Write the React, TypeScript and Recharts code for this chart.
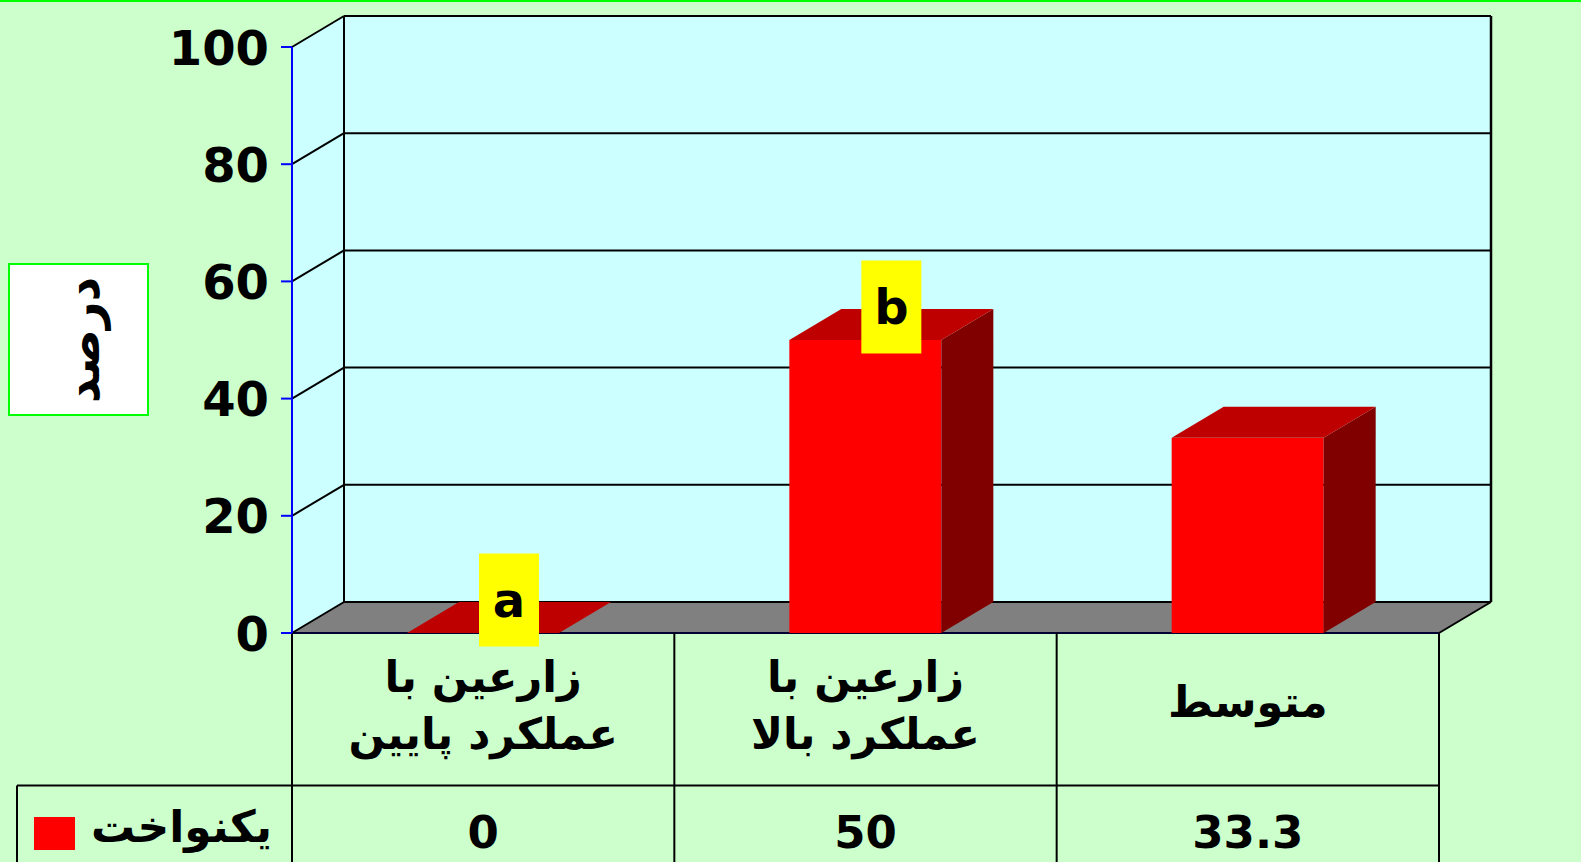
import React from 'react';
import { BarChart, Bar, XAxis, YAxis, CartesianGrid, LabelList } from 'recharts';

// ---------- data ----------
const categoryLines: string[][] = [
  ['زارعین با', 'عملکرد پایین'],
  ['زارعین با', 'عملکرد بالا'],
  ['متوسط'],
];
const categories = categoryLines.map((l) => l.join(' '));
const uniformValues = [0, 50, 33.3];
const valueLabels = ['0', '50', '33.3'];
const significanceLetters = ['a', 'b', ''];
const yTicks = [0, 20, 40, 60, 80, 100];
const seriesName = 'یکنواخت';
const yAxisTitle = 'درصد';

const data = categories.map((c, i) => ({
  category: c,
  value: uniformValues[i],
  letter: significanceLetters[i],
}));

// ---------- layout ----------
const W = 1581;
const H = 862;
const MARGIN = { top: 47, right: 142, bottom: 0, left: 172 };
const Y_AXIS_W = 120;
const X_AXIS_H = 229;
const PL = MARGIN.left + Y_AXIS_W; // 292
const PR = W - MARGIN.right; // 1439
const PT = MARGIN.top; // 47
const PB = H - X_AXIS_H; // 633
const DX = 52;
const DY = 31;
const FONT = '"DejaVu Sans", sans-serif';
const TABLE_ROW = 785.5;
const BAND = (PR - PL) / categories.length;

const gridLine = (p: any) => {
  const y = p.y1;
  const x1 = p.x1;
  const x2 = p.x2;
  return (
    <g key={`grid-${y}`}>
      <line x1={x1} y1={y} x2={x1 + DX} y2={y - DY} stroke="#000" strokeWidth={2} />
      <line x1={x1 + DX} y1={y - DY} x2={x2 + DX} y2={y - DY} stroke="#000" strokeWidth={2} />
    </g>
  );
};

const Bar3D = (p: any) => {
  const x = p.x;
  const y = p.y;
  const w = p.width;
  const h = Math.max(0, p.height || 0);
  const top = `${x},${y} ${x + DX},${y - DY} ${x + w + DX},${y - DY} ${x + w},${y}`;
  const side = `${x + w},${y} ${x + w + DX},${y - DY} ${x + w + DX},${y + h - DY} ${x + w},${y + h}`;
  return (
    <g>
      {h > 0 && <rect x={x} y={y} width={w} height={h} fill="#FF0000" />}
      {h > 0 && <polygon points={side} fill="#800000" />}
      <polygon points={top} fill="#BF0000" />
    </g>
  );
};

const LetterLabel = (p: any) => {
  const vb = p.viewBox || {};
  const x = p.x ?? vb.x;
  const y = p.y ?? vb.y;
  const w = p.width ?? vb.width;
  const v = p.value;
  if (!v) return null;
  const cx = x + w / 2 + DX / 2;
  const cy = y - 33;
  return (
    <g>
      <rect x={cx - 30} y={cy - 46.5} width={60} height={93} fill="#FFFF00" />
      <text x={cx} y={cy + 17} textAnchor="middle" fontFamily={FONT} fontWeight="bold" fontSize={48} fill="#000">
        {v}
      </text>
    </g>
  );
};

const YTick = (p: any) => {
  const { x, y, payload } = p;
  return (
    <text x={x} y={y + 17.5} textAnchor="end" fontFamily={FONT} fontWeight="bold" fontSize={48} fill="#000">
      {payload.value}
    </text>
  );
};

const CategoryTick = (p: any) => {
  const { x, y, payload } = p;
  let idx = payload.index;
  if (idx === undefined || categories[idx] !== payload.value) idx = categories.indexOf(payload.value);
  const lines = categoryLines[idx] || [];
  const common = {
    textAnchor: 'middle' as const,
    fontFamily: FONT,
    fontWeight: 'bold',
    fontSize: 43,
    fill: '#000',
  };
  return (
    <g>
      {lines.length === 2 ? (
        <>
          <text x={x} y={y + 59} {...common}>{lines[0]}</text>
          <text x={x} y={y + 116} {...common}>{lines[1]}</text>
        </>
      ) : (
        <text x={x} y={y + 84} {...common}>{lines[0]}</text>
      )}
      <text x={x} y={848} textAnchor="middle" fontFamily={FONT} fontWeight="bold" fontSize={45} fill="#000">
        {valueLabels[idx]}
      </text>
    </g>
  );
};

export default function App() {
  const bandLines = [0, 1, 2, 3].map((i) => PL + i * BAND);
  return (
    <div style={{ position: 'absolute', left: 0, top: 0, width: W, height: H, background: '#CCFFCC', overflow: 'hidden' }}>
      {/* background decor: walls, floor, table */}
      <svg width={W} height={H} style={{ position: 'absolute', left: 0, top: 0 }}>
        <rect x={0} y={0} width={W} height={2} fill="#00FF00" />
        <polygon points={`${PL},${PT} ${PL + DX},${PT - DY} ${PL + DX},${PB - DY} ${PL},${PB}`} fill="#CCFFFF" />
        <rect x={PL + DX} y={PT - DY} width={PR - PL} height={PB - PT} fill="#CCFFFF" />
        <polygon points={`${PL},${PB} ${PL + DX},${PB - DY} ${PR + DX},${PB - DY} ${PR},${PB}`} fill="#808080" />
        <line x1={PL + DX} y1={PT - DY} x2={PL + DX} y2={PB - DY} stroke="#000" strokeWidth={2} />
        <line x1={PR + DX} y1={PT - DY} x2={PR + DX} y2={PB - DY} stroke="#000" strokeWidth={2.5} />
        <line x1={PR} y1={PB} x2={PR + DX} y2={PB - DY} stroke="#000" strokeWidth={2} />
        <line x1={PL} y1={PB} x2={PR} y2={PB} stroke="#000033" strokeWidth={2} />
        {/* table */}
        {bandLines.map((bx, i) => (
          <line key={`v${i}`} x1={bx} y1={PB} x2={bx} y2={H} stroke="#000" strokeWidth={2} />
        ))}
        <line x1={17} y1={TABLE_ROW} x2={PR} y2={TABLE_ROW} stroke="#000" strokeWidth={2} />
        <line x1={17} y1={TABLE_ROW} x2={17} y2={H} stroke="#000" strokeWidth={2} />
        {/* legend key */}
        <rect x={34} y={817} width={41} height={33} fill="#FF0000" />
        <text x={272} y={842} textAnchor="end" fontFamily={FONT} fontWeight="bold" fontSize={44} fill="#000">
          {seriesName}
        </text>
        {/* y axis title */}
        <rect x={9} y={264} width={139} height={151} fill="#FFFFFF" stroke="#00FF00" strokeWidth={2} />
        <text
          transform={`translate(99,340) rotate(-90)`}
          textAnchor="middle"
          fontFamily={FONT}
          fontWeight="bold"
          fontSize={48}
          fill="#000"
        >
          {yAxisTitle}
        </text>
      </svg>
      <div style={{ position: 'absolute', left: 0, top: 0 }}>
        <BarChart width={W} height={H} data={data} margin={MARGIN}>
          <CartesianGrid vertical={false} horizontal={gridLine} />
          <XAxis
            dataKey="category"
            height={X_AXIS_H}
            axisLine={false}
            tickLine={false}
            tickSize={0}
            tickMargin={0}
            interval={0}
            tick={<CategoryTick />}
          />
          <YAxis
            width={Y_AXIS_W}
            domain={[0, 100]}
            ticks={yTicks}
            interval={0}
            axisLine={{ stroke: '#0000FF', strokeWidth: 2 }}
            tickLine={{ stroke: '#0000FF', strokeWidth: 2 }}
            tickSize={11}
            tickMargin={12}
            tick={<YTick />}
          />
          <Bar dataKey="value" barSize={152} shape={<Bar3D />} isAnimationActive={false}>
            <LabelList dataKey="letter" content={<LetterLabel />} />
          </Bar>
        </BarChart>
      </div>
    </div>
  );
}
